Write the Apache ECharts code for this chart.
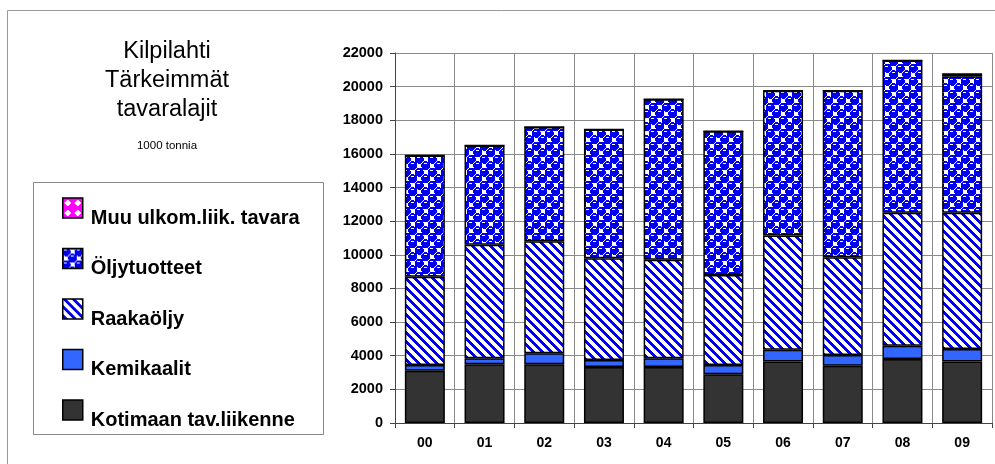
<!DOCTYPE html>
<html><head><meta charset="utf-8">
<script src="https://cdn.jsdelivr.net/npm/echarts@6/dist/echarts.min.js"></script>
<style>html,body{margin:0;padding:0;background:#fff}#c{width:995px;height:464px}</style>
</head><body><div id="c"></div>
<script>
const categories = ['00','01','02','03','04','05','06','07','08','09'];
const kotimaan = [3100, 3500, 3500, 3330, 3330, 2900, 3650, 3400, 3800, 3650];
const kemikaalit = [350, 350, 650, 420, 520, 550, 700, 650, 800, 750];
const raakaoljy = [5250, 6750, 6650, 6050, 5850, 5350, 6800, 5800, 7900, 8100];
const oljytuotteet = [7200, 5900, 6800, 7650, 9550, 8550, 8600, 9900, 9050, 8120];
const muu = [0, 0, 0, 0, 0, 0, 0, 0, 0, 180];
const yTicks = [0, 2000, 4000, 6000, 8000, 10000, 12000, 14000, 16000, 18000, 20000, 22000];

const BLUE = '#0000ee';
function pixTile(size, fn){
  const c=document.createElement('canvas');c.width=size;c.height=size;
  const g=c.getContext('2d');
  for(let y=0;y<size;y++)for(let x=0;x<size;x++){g.fillStyle=fn(x,y,size);g.fillRect(x,y,1,1);}
  return c;
}
const stripe = pixTile(9,(x,y,s)=>(((x-y)%s+s)%s)<4?BLUE:'#fff');
const balls = pixTile(13,(x,y,s)=>{
  const px=x+0.5, py=y+0.5, h=s/2;
  const centers=[];
  for(const [bx,by] of [[h/2,h/2],[h/2+h,h/2+h]])
    for(const dx of [-s,0,s]) for(const dy of [-s,0,s]) centers.push([bx+dx,by+dy]);
  for(const [cx,cy] of centers){
    const d=Math.hypot(px-cx,py-cy);
    if(d<4.5){
      if(py>cy-2.6&&py<cy-1.4&&Math.abs(px-cx+0.5)<1.6) return '#fff';
      return BLUE;
    }
  }
  return '#fff';
});
const magenta = pixTile(10,(x,y)=>(Math.abs(x-4.5)+Math.abs(y-4.5)<3.6)?'#fff':'#ff00ff');

const names = ['Kotimaan tav.liikenne','Kemikaalit','Raakaöljy','Öljytuotteet','Muu ulkom.liik. tavara'];
const datas = [kotimaan, kemikaalit, raakaoljy, oljytuotteet, muu];
const fills = ['#333333','#3366ff',{image:stripe,repeat:'repeat'},{image:balls,repeat:'repeat'},{image:magenta,repeat:'repeat'}];

const FONT = 'Liberation Sans, Arial, sans-serif';
const chart = echarts.init(document.getElementById('c'), null, {renderer:'canvas'});
chart.setOption({
  animation:false,
  backgroundColor:'#fff',
  title:{
    text:'Kilpilahti\nTärkeimmät\ntavaralajit',
    subtext:'1000 tonnia',
    left:162, top:32, textAlign:'center', itemGap:16,
    textStyle:{fontFamily:FONT,fontSize:23.5,fontWeight:'normal',color:'#000',lineHeight:29},
    subtextStyle:{fontFamily:FONT,fontSize:11.5,color:'#000'}
  },
  graphic:[
    {type:'rect',shape:{x:7.5,y:10.5,width:1000,height:470},style:{fill:'none',stroke:'#999',lineWidth:1},silent:true,z:-1},
    {type:'rect',shape:{x:33.5,y:182.5,width:290,height:252},style:{fill:'none',stroke:'#888',lineWidth:1},silent:true}
  ],
  legend:{
    orient:'vertical', left:62, top:188, itemGap:10.5, padding:0,
    itemWidth:20, itemHeight:20, icon:'rect',
    data:names.slice().reverse(),
    formatter:n=>'\n'+n,
    textStyle:{fontFamily:FONT,fontSize:20,fontWeight:'bold',color:'#000',lineHeight:20,padding:[0,0,0,3]},
    itemStyle:{borderColor:'#000',borderWidth:1.5}
  },
  grid:{left:395,right:3,top:53,bottom:41,containLabel:false},
  xAxis:{
    type:'category', data:categories, boundaryGap:true,
    axisLine:{lineStyle:{color:'#444',width:1}},
    axisTick:{show:true,length:5,lineStyle:{color:'#444'}},
    splitLine:{show:true,lineStyle:{color:'#8a8a8a',width:1}},
    axisLabel:{fontFamily:FONT,fontSize:14,fontWeight:'bold',color:'#000',margin:13}
  },
  yAxis:{
    type:'value', min:0, max:22000, interval:2000,
    axisLine:{show:true,lineStyle:{color:'#444',width:1}},
    axisTick:{show:true,length:5,lineStyle:{color:'#444'}},
    splitLine:{show:true,lineStyle:{color:'#8a8a8a',width:1}},
    axisLabel:{fontFamily:FONT,fontSize:14.5,fontWeight:'bold',color:'#000',margin:12,
      formatter:v=>yTicks.includes(v)?String(v):''}
  },
  series:names.map((n,i)=>({
    name:n, type:'bar', stack:'all', barWidth:'67%', data:datas[i],
    itemStyle:{color:fills[i],borderColor:'#000',borderWidth:1.5}
  }))
});
</script></body></html>
